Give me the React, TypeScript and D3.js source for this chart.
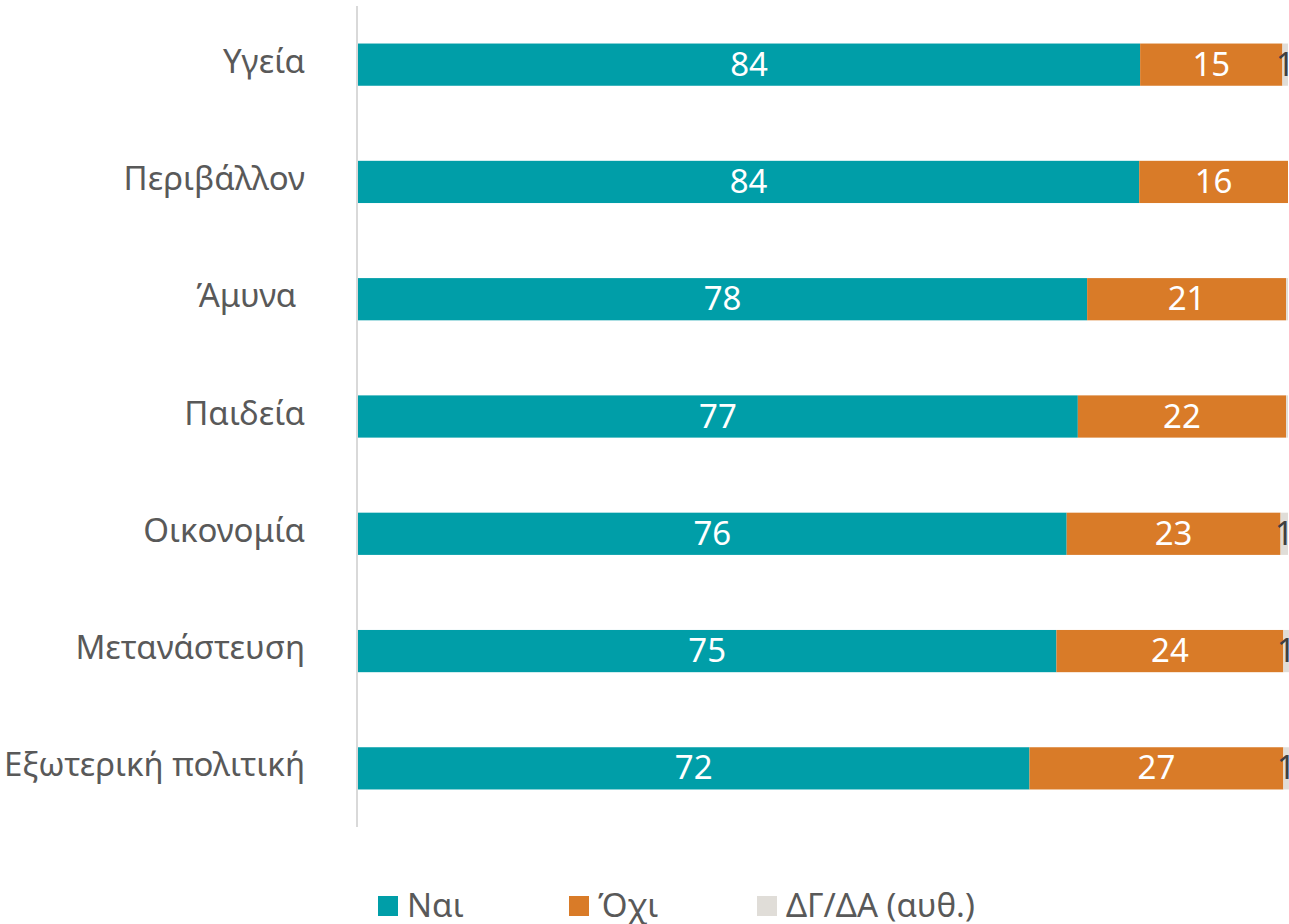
import * as d3 from 'd3'

const WIDTH = 1289
const HEIGHT = 924
const MARGIN = { top: 6, right: 1, bottom: 97, left: 358 }

const CATEGORIES = ['Υγεία', 'Περιβάλλον', 'Άμυνα ', 'Παιδεία', 'Οικονομία', 'Μετανάστευση', 'Εξωτερική πολιτική']
const YES = [84.1, 84.0, 78.4, 77.4, 76.2, 75.1, 72.2]
const NO = [15.3, 16.0, 21.4, 22.4, 23.0, 24.4, 27.3]
const DK = [0.6, 0, 0.2, 0.2, 0.8, 0.6, 0.6]

const SERIES = ['Ναι', 'Όχι', 'ΔΓ/ΔΑ (αυθ.)']
const COLORS = ['#009ea8', '#d97b28', '#e0ddd8']
const LABEL_COLORS = ['#ffffff', '#ffffff', '#404040']
const LEGEND_X = [378, 569, 757]

const FONT = '"Noto Sans", "Open Sans", sans-serif'

export default function App() {
  const rows = CATEGORIES.map((c, i) => ({ cat: c, vals: [YES[i], NO[i], DK[i]] }))

  const x = d3.scaleLinear().domain([0, 100]).range([MARGIN.left, WIDTH - MARGIN.right])
  const y = d3.scaleBand<string>()
    .domain(CATEGORIES)
    .range([MARGIN.top, HEIGHT - MARGIN.bottom])
    .paddingInner(0.64)
    .paddingOuter(0.32)

  const fmt = d3.format('.0f')
  const mid = (c: string) => (y(c) ?? 0) + y.bandwidth() / 2

  return (
    <svg
      width={WIDTH}
      height={HEIGHT}
      style={{ position: 'absolute', left: 0, top: 0, fontFamily: FONT, background: '#fff' }}
    >
      {/* stacked bars */}
      {rows.map(r => {
        let acc = 0
        return (
          <g key={r.cat}>
            {r.vals.map((v, k) => {
              const x0 = x(acc)
              acc += v
              const x1 = x(acc)
              return (
                <rect
                  key={k}
                  x={x0}
                  y={y(r.cat)}
                  width={Math.max(0, x1 - x0)}
                  height={y.bandwidth()}
                  fill={COLORS[k]}
                />
              )
            })}
          </g>
        )
      })}

      {/* value labels, hidden when they round to 0 */}
      {rows.map(r => {
        let acc = 0
        return (
          <g key={`lbl-${r.cat}`}>
            {r.vals.map((v, k) => {
              const cx = x(acc + v / 2)
              acc += v
              if (Math.round(v) === 0) return null
              return (
                <text
                  key={k}
                  x={cx}
                  y={mid(r.cat) + 11}
                  textAnchor="middle"
                  fontSize={33}
                  fill={LABEL_COLORS[k]}
                >
                  {fmt(v)}
                </text>
              )
            })}
          </g>
        )
      })}

      {/* axis line */}
      <line
        x1={MARGIN.left - 1}
        x2={MARGIN.left - 1}
        y1={MARGIN.top}
        y2={HEIGHT - MARGIN.bottom}
        stroke="#d9d9d9"
        strokeWidth={2}
      />

      {/* category labels */}
      {CATEGORIES.map(c => (
        <text
          key={`cat-${c}`}
          x={305}
          y={mid(c) + 8}
          textAnchor="end"
          fontSize={33}
          fill="#595959"
          style={{ whiteSpace: 'pre' }}
        >
          {c}
        </text>
      ))}

      {/* legend */}
      {SERIES.map((s, i) => (
        <g key={`leg-${s}`}>
          <rect x={LEGEND_X[i]} y={896} width={20} height={20} fill={COLORS[i]} />
          <text x={LEGEND_X[i] + 29} y={917} fontSize={33} fill="#595959">
            {s}
          </text>
        </g>
      ))}
    </svg>
  )
}
